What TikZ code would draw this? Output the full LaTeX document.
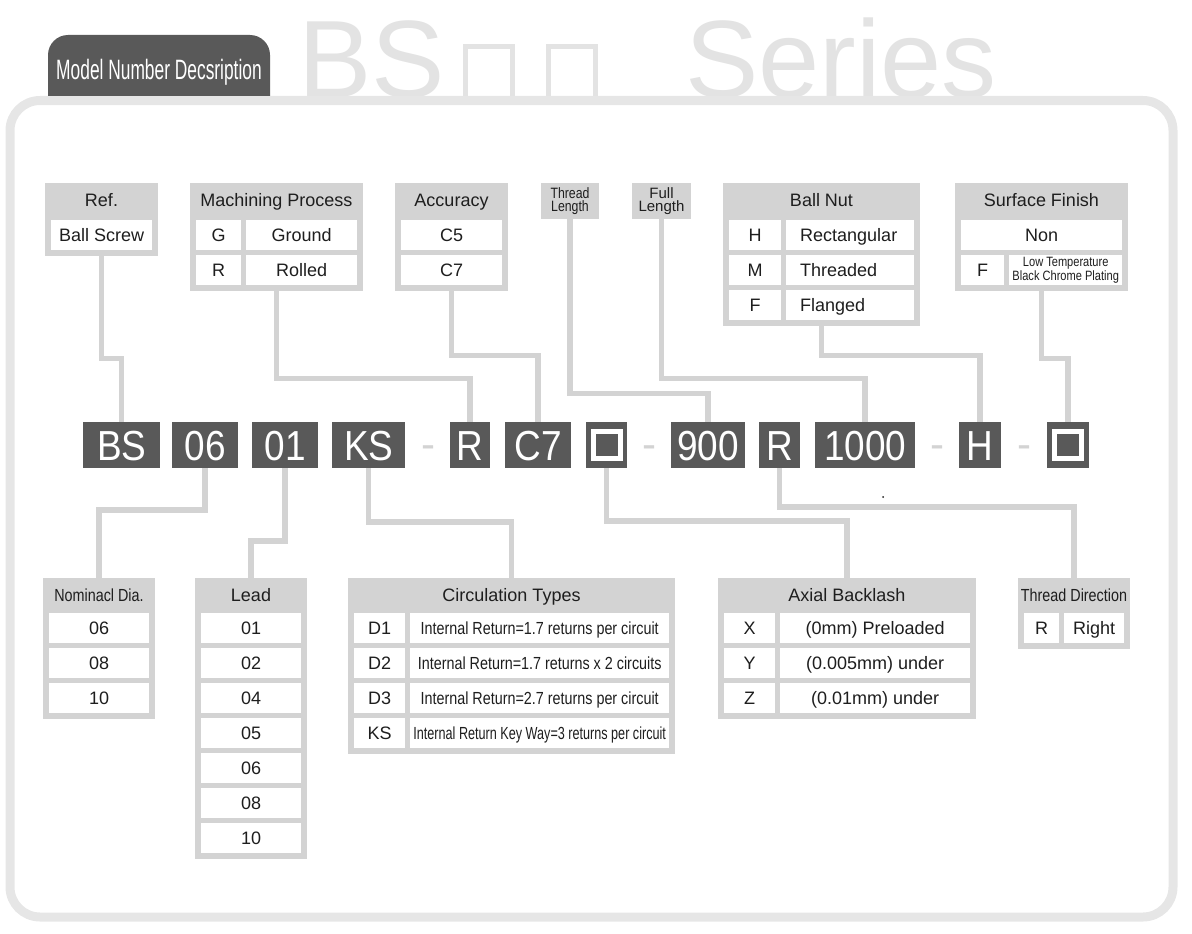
\documentclass[tikz,border=0pt]{standalone}
\usepackage{fontspec}
\setmainfont{Liberation Sans}
\newfontfamily\narrowfont[FakeStretch=0.82]{Liberation Sans}
\newfontfamily\tabfont[FakeStretch=0.62]{Liberation Sans}
\newfontfamily\codefont[FakeStretch=0.88]{Liberation Sans}

\definecolor{codegray}{HTML}{595959}
\definecolor{panelgray}{HTML}{D3D3D3}
\definecolor{framegray}{HTML}{E6E6E6}
\definecolor{titlegray}{HTML}{E3E3E3}
\definecolor{ink}{HTML}{1E1E1E}

\tikzset{
	panel/.style={fill=panelgray, anchor=north west, inner sep=0pt},
	blank/.style={fill=white, anchor=north west, inner sep=0pt, minimum height=30pt},
	cell/.style={blank, font=\fontsize{18}{20}\selectfont, text height=13pt, text depth=0pt},
	head/.style={inner sep=0pt, font=\fontsize{18}{20}\selectfont, text height=13pt, text depth=0pt},
	code/.style={fill=codegray, text=white, anchor=west, inner sep=0pt, minimum height=46pt,
		font=\codefont\fontsize{42}{42}\selectfont, text height=30pt, text depth=0pt},
	hyph/.style={text=panelgray, inner sep=0pt, font=\fontsize{42}{42}\selectfont, text height=30pt, text depth=0pt},
	slot/.style={draw=white, line width=5pt, minimum size=27pt, inner sep=0pt},
	link/.style={draw=panelgray, line width=5.5pt},
	big/.style={anchor=base west, inner sep=0pt, text=titlegray, font=\fontsize{110}{110}\selectfont},
	bigslot/.style={draw=titlegray, line width=5pt, anchor=north west, inner sep=0pt, minimum width=47pt, minimum height=54pt}
}

\begin{document}
\begin{tikzpicture}[x=1pt, y=-1pt, text=ink]
	\useasboundingbox (0,0) rectangle (1192,934);
	% title
	\node[big] (bsword) at (298,97) {BS};
	\node[bigslot] (slot1) at (462.5,44.5) {};
	\node[bigslot] (slot2) at (545.5,44.5) {};
	\node[big] (series) at (685,97) {Series};
	\draw[framegray, line width=9pt, rounded corners=30pt] (10,100.5) rectangle (1173,917);
	\fill[codegray] (48,96) -- (48,55) arc[start angle=180, end angle=270, radius=20]
		-- (250,35) arc[start angle=270, end angle=360, radius=20] -- (270,96) -- cycle;
	\node[anchor=base, text=white, inner sep=0pt, font=\tabfont\fontsize{28}{28}\selectfont] (tabtext) at (159,80) {Model Number Decsription};

	% upper tables
	\node[panel, minimum width=113pt, minimum height=73pt] (tref) at (45,183) {};
	\node[head] (tref-h) at (101.5,200) {Ref.};
	\node[cell, minimum width=101pt] (tref-v) at (51,220) {Ball Screw};

	\node[panel, minimum width=173pt, minimum height=108pt] (tproc) at (190,183) {};
	\node[head] (tproc-h) at (276.5,200) {Machining Process};
	\foreach \k/\v [count=\i from 0] in {G/Ground, R/Rolled} {
		\node[cell, minimum width=45pt] (tproc-k\i) at (196,{220+35*\i}) {\k};
		\node[cell, minimum width=111pt] (tproc-v\i) at (246,{220+35*\i}) {\v};
	}

	\node[panel, minimum width=113pt, minimum height=108pt] (tacc) at (395,183) {};
	\node[head] (tacc-h) at (451.5,200) {Accuracy};
	\foreach \v [count=\i from 0] in {C5, C7}
		\node[cell, minimum width=101pt] (tacc-v\i) at (401,{220+35*\i}) {\v};

	\node[panel, minimum width=58pt, minimum height=36pt] (tlen) at (541,183) {};
	\node[align=center, inner sep=0pt, font=\narrowfont\fontsize{15}{13.5}\selectfont] (tlen-h) at (570,201) {Thread\\Length};

	\node[panel, minimum width=59pt, minimum height=36pt] (tfull) at (632,183) {};
	\node[align=center, inner sep=0pt, font=\fontsize{15}{13.5}\selectfont] (tfull-h) at (661.5,201) {Full\\Length};

	\node[panel, minimum width=197pt, minimum height=143pt] (tnut) at (723,183) {};
	\node[head] (tnut-h) at (821.5,200) {Ball Nut};
	\foreach \k/\v [count=\i from 0] in {H/Rectangular, M/Threaded, F/Flanged} {
		\node[cell, minimum width=52pt] (tnut-k\i) at (729,{220+35*\i}) {\k};
		\node[cell, minimum width=128pt, text width=100pt, align=left] (tnut-v\i) at (786,{220+35*\i}) {\v};
	}

	\node[panel, minimum width=173pt, minimum height=108pt] (tfin) at (955,183) {};
	\node[head] (tfin-h) at (1041.5,200) {Surface Finish};
	\node[cell, minimum width=161pt] (tfin-v0) at (961,220) {Non};
	\node[cell, minimum width=43pt] (tfin-k1) at (961,255) {F};
	\node[blank, minimum width=113pt, align=center, font=\narrowfont\fontsize{13.5}{12}\selectfont] (tfin-v1) at (1009,255) {Low Temperature\\Black Chrome Plating};

	% code
	\node[code, minimum width=77pt] (cbs) at (83,445) {BS};
	\node[code, minimum width=66pt] (cdia) at (172,445) {06};
	\node[code, minimum width=66pt] (clead) at (252,445) {01};
	\node[code, minimum width=73pt] (ccirc) at (332,445) {KS};
	\node[hyph] (h1) at (428.5,443) {-};
	\node[code, minimum width=40pt] (cproc) at (450,445) {R};
	\node[code, minimum width=66pt] (cacc) at (505,445) {C7};
	\node[code, minimum width=41pt] (cback) at (586,445) {};
	\node[slot] (sback) at (cback) {};
	\node[hyph] (h2) at (649.5,443) {-};
	\node[code, minimum width=74pt] (clen) at (671,445) {900};
	\node[code, minimum width=41pt] (cdir) at (759,445) {R};
	\node[code, minimum width=100pt] (cfull) at (815,445) {1000};
	\node[hyph] (h3) at (937.5,443) {-};
	\node[code, minimum width=42pt] (cnut) at (959,445) {H};
	\node[hyph] (h4) at (1024,443) {-};
	\node[code, minimum width=42pt] (cfin) at (1047,445) {};
	\node[slot] (sfin) at (cfin) {};
	\fill[ink] (883,497) circle[radius=1pt];

	% lower tables
	\node[panel, minimum width=112pt, minimum height=141pt] (tdia) at (43,578) {};
	\node[head, font=\narrowfont\fontsize{17.5}{20}\selectfont] (tdia-h) at (99,595) {Nominacl Dia.};
	\foreach \v [count=\i from 0] in {06, 08, 10}
		\node[cell, minimum width=100pt] (tdia-v\i) at (49,{613+35*\i}) {\v};

	\node[panel, minimum width=112pt, minimum height=281pt] (tlead) at (195,578) {};
	\node[head] (tlead-h) at (251,595) {Lead};
	\foreach \v [count=\i from 0] in {01, 02, 04, 05, 06, 08, 10}
		\node[cell, minimum width=100pt] (tlead-v\i) at (201,{613+35*\i}) {\v};

	\node[panel, minimum width=327pt, minimum height=176pt] (tcirc) at (348,578) {};
	\node[head] (tcirc-h) at (511.5,595) {Circulation Types};
	\foreach \k/\v [count=\i from 0] in {D1/Internal Return=1.7 returns per circuit,
		D2/Internal Return=1.7 returns x 2 circuits,
		D3/Internal Return=2.7 returns per circuit,
		KS/\scalebox{0.88}[1]{Internal Return Key Way=3 returns per circuit}} {
		\node[cell, minimum width=51pt] (tcirc-k\i) at (354,{613+35*\i}) {\k};
		\node[cell, minimum width=259pt, font=\narrowfont\fontsize{17.5}{20}\selectfont] (tcirc-v\i) at (410,{613+35*\i}) {\v};
	}

	\node[panel, minimum width=258pt, minimum height=141pt] (tback) at (718,578) {};
	\node[head] (tback-h) at (847,595) {Axial Backlash};
	\foreach \k/\v [count=\i from 0] in {X/(0mm) Preloaded, Y/(0.005mm) under, Z/(0.01mm) under} {
		\node[cell, minimum width=51pt] (tback-k\i) at (724,{613+35*\i}) {\k};
		\node[cell, minimum width=190pt] (tback-v\i) at (780,{613+35*\i}) {\v};
	}

	\node[panel, minimum width=112pt, minimum height=71pt] (tdir) at (1018,578) {};
	\node[head, font=\narrowfont\fontsize{17.5}{20}\selectfont] (tdir-h) at (1074,595) {Thread Direction};
	\node[cell, minimum width=35pt] (tdir-k0) at (1024,613) {R};
	\node[cell, minimum width=60pt] (tdir-v0) at (1064,613) {Right};

	% links
	\draw[link] (tref.south) -- ++(0,102) -| (cbs.north);
	\draw[link] (tproc.south) -- ++(0,87) -| (cproc.north);
	\draw[link] (tacc.south) -- ++(0,64) -| (cacc.north);
	\draw[link] (tlen.south) -- ++(0,174) -| (clen.north);
	\draw[link] (tfull.south) -- ++(0,159) -| (cfull.north);
	\draw[link] (tnut.south) -- ++(0,29) -| (cnut.north);
	\draw[link] (tfin.south) -- ++(0,67) -| (cfin.north);
	\draw[link] (cdia.south) -- ++(0,42) -| (tdia.north);
	\draw[link] (clead.south) -- ++(0,73) -| (tlead.north);
	\draw[link] (ccirc.south) -- ++(0,54) -| (tcirc.north);
	\draw[link] (cback.south) -- ++(0,53) -| (tback.north);
	\draw[link] (cdir.south) -- ++(0,39) -| (tdir.north);
\end{tikzpicture}
\end{document}
